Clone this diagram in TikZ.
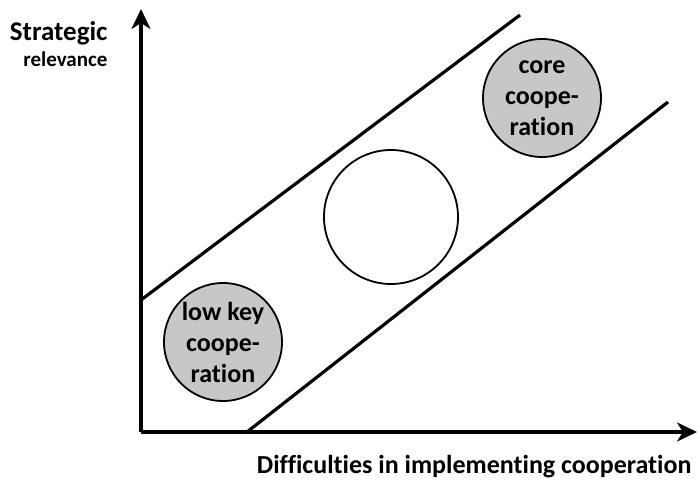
\documentclass[tikz,border=0pt]{standalone}
\usepackage{fontspec}
\setmainfont{Carlito}[Ligatures=NoCommon]
\usetikzlibrary{arrows.meta}
\begin{document}
\begin{tikzpicture}[x=1pt,y=-1pt,
  axis/.style={line width=3.2pt,-{Stealth[length=20pt,width=19pt,inset=6pt]}},
  band/.style={line width=3.2pt},
  bubble/.style={circle,draw,line width=1.8pt,fill=black!22,align=center,inner sep=0pt,font=\bfseries\fontsize{26}{31}\selectfont},
  lbl/.style={font=\bfseries}]
\useasboundingbox (0,0) rectangle (697,481);
\coordinate (O) at (141,432);
\coordinate (Ytop) at (141,9);
\coordinate (Xend) at (697,432);
\coordinate (u1) at (141,300);
\coordinate (u2) at (520,15);
\coordinate (l1) at (247,432);
\coordinate (l2) at (668,102);
\draw[band] (u1) -- (u2);
\draw[band] (l1) -- (l2);
\draw[axis] (O) -- (Ytop);
\draw[axis] (O) -- (Xend);
\node[bubble,minimum size=118pt] (low) at (223,342) {low key\\coope-\\ration};
\node[bubble,minimum size=134pt,fill=white] (mid) at (391,217) {};
\node[bubble,minimum size=118pt] (core) at (542,98) {core\\coope-\\ration};
\node[lbl,anchor=east,font=\bfseries\fontsize{27}{30}\selectfont] (s) at (111,33) {Strategic};
\node[lbl,anchor=east,font=\bfseries\fontsize{21}{24}\selectfont] (r) at (111,59) {relevance};
\node[lbl,anchor=east,font=\bfseries\fontsize{26}{30}\selectfont] (d) at (695,467) {Difficulties in implementing cooperation};
\end{tikzpicture}
\end{document}
